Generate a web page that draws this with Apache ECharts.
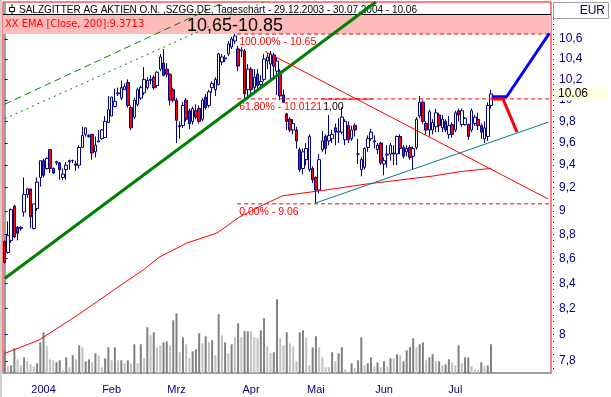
<!DOCTYPE html>
<html>
<head>
<meta charset="utf-8">
<script src="https://cdn.jsdelivr.net/npm/echarts@6/dist/echarts.min.js"></script>
<style>
  html, body { margin: 0; padding: 0; background: #fff; }
  #chart { width: 611px; height: 397px; }
</style>
</head>
<body>
<div id="chart"></div>
<script>
// chart data
const MONTHS = ['Dez', '2004', 'Feb', 'Mrz', 'Apr', 'Mai', 'Jun', 'Jul'];
const TRADING_DAYS = [2, 21, 20, 23, 20, 21, 22, 22];
const EMPTY_DAYS = 18; // room on the right for the projection

// [open, close, low, high]
const CANDLES = [
  [8.74,8.57,8.56,8.75],[8.65,8.79,8.64,8.91],[8.75,9.01,8.73,9.02],[9.04,8.78,8.77,9.05],[8.86,8.81,8.75,8.87],
  [8.85,8.86,8.83,8.87],[8.99,9.14,8.95,9.29],[9.14,9.19,9.11,9.20],[9.19,8.95,8.85,9.19],[8.85,9.06,8.84,9.06],
  [9.02,9.25,9.00,9.29],[9.29,9.44,9.21,9.44],[9.44,9.31,9.29,9.46],[9.37,9.46,9.36,9.47],[9.54,9.37,9.33,9.54],
  [9.37,9.33,9.32,9.38],[9.42,9.43,9.40,9.44],[9.42,9.36,9.27,9.43],[9.29,9.32,9.27,9.37],[9.36,9.40,9.27,9.43],
  [9.43,9.44,9.36,9.45],[9.44,9.44,9.42,9.45],[9.41,9.40,9.35,9.44],[9.40,9.56,9.37,9.58],[9.56,9.67,9.56,9.75],
  [9.68,9.74,9.66,9.74],[9.67,9.66,9.65,9.68],[9.68,9.51,9.45,9.68],[9.52,9.58,9.47,9.66],[9.61,9.62,9.61,9.72],
  [9.64,9.72,9.63,9.73],[9.65,9.80,9.65,9.85],[9.79,9.91,9.79,10.04],[9.85,10.03,9.85,10.03],[9.94,9.99,9.93,10.11],
  [10.06,10.07,10.04,10.12],[10.02,10.12,10.00,10.19],[10.10,10.13,10.10,10.16],[10.17,9.95,9.93,10.20],[9.93,9.74,9.72,9.95],
  [9.84,10.00,9.82,10.02],[9.96,10.10,9.94,10.12],[10.02,10.12,10.00,10.14],[10.07,10.20,10.05,10.32],[10.12,10.19,10.10,10.22],
  [10.19,10.20,10.15,10.24],[10.22,10.12,10.10,10.24],[10.14,10.27,10.12,10.28],[10.30,10.42,10.28,10.45],[10.36,10.24,10.23,10.50],
  [10.30,10.25,10.22,10.36],[10.25,10.00,9.95,10.26],[10.10,10.00,9.98,10.12],[10.00,9.81,9.60,10.02],[9.76,9.75,9.64,9.80],
  [9.76,9.95,9.74,9.98],[10.00,9.82,9.80,10.02],[9.90,9.78,9.73,9.92],[9.80,9.92,9.77,9.94],[9.90,9.84,9.82,9.96],
  [9.92,9.80,9.78,9.95],[9.82,10.00,9.80,10.02],[10.03,9.93,9.91,10.06],[9.95,10.08,9.93,10.10],[10.12,10.16,10.07,10.18],
  [10.10,10.20,10.04,10.22],[10.15,10.45,10.14,10.46],[10.37,10.42,10.34,10.45],[10.40,10.41,10.37,10.44],[10.45,10.55,10.43,10.58],
  [10.52,10.60,10.50,10.62],[10.58,10.63,10.55,10.65],[10.50,10.33,10.28,10.53],[10.48,10.49,10.42,10.52],[10.48,10.06,10.02,10.50],
  [10.10,10.30,10.02,10.35],[10.30,10.10,10.06,10.32],[10.12,10.22,10.08,10.30],[10.25,10.14,10.10,10.30],[10.15,10.18,10.12,10.24],
  [10.20,10.40,10.18,10.45],[10.38,10.42,10.30,10.46],[10.35,10.45,10.20,10.48],[10.44,10.33,10.22,10.46],[10.28,10.38,10.05,10.42],
  [10.28,10.04,10.00,10.30],[10.05,9.98,9.98,10.10],[9.87,9.80,9.72,9.88],[9.82,9.72,9.70,9.84],[9.72,9.78,9.68,9.82],
  [9.72,9.62,9.55,9.75],[9.54,9.36,9.34,9.56],[9.37,9.52,9.32,9.55],[9.45,9.55,9.40,9.60],[9.36,9.66,9.34,9.68],
  [9.37,9.27,9.24,9.39],[9.29,9.18,9.06,9.30],[9.18,9.45,9.15,9.50],[9.54,9.62,9.52,9.71],[9.66,9.55,9.50,9.68],
  [9.62,9.67,9.58,9.86],[9.64,9.68,9.60,9.72],[9.74,9.70,9.58,9.78],[9.70,9.71,9.60,9.83],[9.70,9.84,9.68,9.93],
  [9.63,9.80,9.58,9.82],[9.76,9.63,9.60,9.80],[9.64,9.72,9.62,9.76],[9.76,9.72,9.66,9.78],[9.50,9.50,9.41,9.64],
  [9.36,9.45,9.30,9.47],[9.38,9.55,9.36,9.56],[9.56,9.64,9.52,9.67],[9.64,9.70,9.62,9.73],[9.62,9.61,9.55,9.67],
  [9.54,9.58,9.50,9.60],[9.60,9.42,9.40,9.61],[9.41,9.44,9.31,9.47],[9.49,9.50,9.38,9.58],[9.50,9.58,9.44,9.60],
  [9.51,9.50,9.40,9.58],[9.50,9.66,9.40,9.67],[9.66,9.55,9.50,9.68],[9.56,9.48,9.46,9.58],[9.52,9.55,9.48,9.58],
  [9.56,9.47,9.45,9.58],[9.48,9.55,9.36,9.57],[9.56,9.82,9.54,9.84],[9.85,9.98,9.83,10.04],[9.98,9.80,9.78,10.00],
  [9.78,9.72,9.68,9.80],[9.72,9.89,9.66,9.91],[9.72,9.79,9.68,9.82],[9.75,9.88,9.70,9.92],[9.86,9.76,9.70,9.88],
  [9.74,9.82,9.70,9.86],[9.80,9.72,9.70,9.82],[9.68,9.76,9.64,9.85],[9.77,9.68,9.65,9.79],[9.72,9.88,9.70,9.90],
  [9.90,9.86,9.80,9.92],[9.77,9.90,9.75,9.92],[9.77,9.83,9.76,9.84],[9.77,9.66,9.63,9.78],[9.72,9.90,9.70,9.92],
  [9.78,9.84,9.76,9.86],[9.82,9.76,9.72,9.88],[9.76,9.70,9.64,9.78],[9.64,9.74,9.60,9.80],[9.66,9.95,9.62,9.98],
  [9.95,10.06,9.92,10.10]
];

// volume in 1000 shares, and which bars are drawn dark
const VOLUME = [
  227,67,77,247,137,77,157,120,87,67, 97,307,407,267,137,127,107,127,27,157,
  57,177,137,277,257,117,137,107,197,177, 57,147,257,127,257,127,127,97,127,97,
  287,97,287,147,457,377,407,257,277,307, 317,277,527,597,207,357,287,147,217,237,
  397,297,367,307,327,177,587,377,307,197, 287,357,497,357,417,417,417,357,347,427,
  547,267,197,207,737,347,277,407,297,267, 117,407,427,357,77,257,367,257,157,57,
  57,207,117,197,257,37,13,97,47,127, 357,77,97,157,67,107,57,117,67,147,
  147,187,177,117,227,257,347,257,287,307, 127,157,187,117,117,77,87,137,107,77,
  277,97,157,157,67,37,27,107,67,77,287
];
const VOLUME_DARK = [
  1,0,1,1,0,0,1,0,0,0, 1,1,1,0,0,0,1,1,0,1, 0,1,0,1,0,1,1,0,1,0, 0,1,1,0,1,0,1,0,1,0,
  1,0,1,0,1,0,1,0,0,1, 1,0,1,1,0,1,0,0,1,1, 1,0,1,0,1,0,1,0,1,0, 1,0,1,0,1,1,0,0,0,1,
  1,0,0,1,1,0,0,1,0,0, 0,1,1,0,0,1,1,0,0,0, 0,1,0,1,1,0,0,1,0,1, 1,0,1,1,0,1,0,1,0,1,
  0,1,0,1,1,1,1,0,1,1, 0,1,1,0,1,0,1,1,0,0, 1,0,1,1,0,0,0,1,0,1,1
];

// EMA 200 read at [day index, price]
const EMA_200 = [
  [0,7.857],[10.6,7.958],[22.6,8.150],[34.7,8.365],[42.7,8.507],[47.9,8.615],[56.2,8.728],
  [65.5,8.812],[72.6,8.950],[80.9,9.067],[85.8,9.13],[91.1,9.150],[101.3,9.189],[111.7,9.233],
  [121.9,9.268],[132.1,9.303],[140.4,9.342],[150,9.371]
];

// drawn trend lines, [day index, price]
const TREND_GREEN = [[0, 8.438], [114.5, 10.98]];
const CHANNEL_DASHED = [[0, 9.961], [67.8, 10.98]];
const CHANNEL_DOTTED = [[0, 9.825], [80, 10.98]];
const TREND_RED = [[80.3, 10.476], [167.6, 9.102]];
const SUPPORT_TEAL = [[95.7, 9.065], [167.6, 9.792]];
const PROJ_UP = [[150.2, 10.033], [154.8, 10.033], [168, 10.658]];
const PROJ_DOWN = [[150.2, 10.011], [153.7, 10.011], [158, 9.70]];
const MARK_1_00 = [[97.6, 10.01], [113.3, 10.01]];

const FIB_FROM = 71.7;
const FIB_LEVELS = [
  { price: 10.65, text: '100.00% - 10.65' },
  { price: 10.0121, text: '61.80% - 10.0121' },
  { price: 9.06, text: '0.00% - 9.06' }
];
const ZONE = [10.65, 10.85];
const LAST_CLOSE = 10.06;

const PRICE_TICKS = [7.8, 8, 8.2, 8.4, 8.6, 8.8, 9, 9.2, 9.4, 9.6, 9.8, 10, 10.2, 10.4, 10.6];
const PRICE_MIN = 7.712;
const PRICE_MAX = 10.98;

const FONT = 'Liberation Sans, Arial, sans-serif';
const NARROW = 'Liberation Sans Narrow, DejaVu Sans Condensed, Liberation Sans, sans-serif';

// --- categories: trading days, month ticks and labels ---
const categories = [];
const monthStarts = new Set();
const labelAt = {};
MONTHS.forEach((m, k) => {
  const start = categories.length;
  for (let d = 0; d < TRADING_DAYS[k]; d++) categories.push(m + ' ' + (d + 1));
  if (k > 0) { monthStarts.add(start); labelAt[start + 10] = m; }
});
for (let d = 0; d < EMPTY_DAYS; d++) categories.push('Aug ' + (d + 1));
const N = categories.length;

const ln = Math.log;
const tickVals = PRICE_TICKS.map(ln);
const minorVals = [];
for (let p = 775; p <= 1095; p += 5) minorVals.push(ln(p / 100));

function priceLabel(v) {
  let s = (Math.round(Math.exp(v) * 10) / 10).toFixed(1);
  if (s.endsWith('.0')) s = s.slice(0, -2);
  return s.replace('.', ',');
}

function lineSeries(name, points, color, width, type, z) {
  return {
    name: name, type: 'line', xAxisIndex: 2, yAxisIndex: 0, z: z || 4,
    silent: true, symbol: 'none', animation: false,
    lineStyle: { color: color, width: width, type: type || 'solid' },
    data: points.map(p => [p[0], ln(p[1])])
  };
}

// a line whose first point carries a text hanging below it
function labelledLine(name, points, color, type, text, textColor) {
  const s = lineSeries(name, points, color, 1, type, 3);
  s.showSymbol = true;
  s.symbol = 'circle';
  s.symbolSize = 0.1;
  s.itemStyle = { opacity: 0 };
  s.label = { show: false };
  s.data[0] = { value: s.data[0], label: { show: true, position: 'right', formatter: text, opacity: 1,
    color: textColor, fontSize: 10.5, fontFamily: FONT, offset: [-3, 8] } };
  return s;
}

const fibSeries = FIB_LEVELS.map(f =>
  labelledLine('Fib ' + f.text, [[FIB_FROM, f.price], [N - 0.5, f.price]], '#ff0000', [4, 3], f.text, '#ff0000'));

const chart = echarts.init(document.getElementById('chart'));

const priceAxisBase = { type: 'value', gridIndex: 0, position: 'right', min: ln(PRICE_MIN), max: ln(PRICE_MAX), offset: 2, splitLine: { show: false } };

chart.setOption({
  animation: false,
  backgroundColor: '#fff',
  title: [
    { text: 'SALZGITTER AG AKTIEN O.N. ,SZGG.DE, Tageschart - 29.12.2003 - 30.07.2004 - 10.06',
      left: 19, top: 5, padding: 0, z: 3,
      textStyle: { fontSize: 10, fontWeight: 'normal', color: '#000', fontFamily: FONT } },
    { text: 'XX EMA [Close, 200]:9.3713', left: 5, top: 19, padding: 0, z: 3,
      textStyle: { fontSize: 11, fontWeight: 'normal', color: '#ff0000', fontFamily: NARROW } }
  ],
  grid: [
    { left: 3, right: 60, top: 2, bottom: 24, show: true, borderColor: '#ff0000', borderWidth: 1, backgroundColor: '#fff' },
    { left: 3, right: 60, top: 273, bottom: 24 }
  ],
  xAxis: [
    { type: 'category', gridIndex: 0, data: categories, boundaryGap: true, show: false },
    { type: 'category', gridIndex: 1, data: categories, boundaryGap: true, offset: 2,
      axisLine: { lineStyle: { color: '#a0a0a0', width: 2 } },
      axisTick: { alignWithLabel: true, length: 5, interval: i => monthStarts.has(i), lineStyle: { color: '#000080' } },
      axisLabel: { interval: i => labelAt[i] !== undefined, formatter: (v, i) => labelAt[i] || '',
        color: '#000080', fontSize: 11, fontFamily: FONT, margin: 9 } },
    { type: 'value', gridIndex: 0, min: -0.5, max: N - 0.5, show: false }
  ],
  yAxis: [
    Object.assign({}, priceAxisBase, {
      axisLine: { show: true, lineStyle: { color: '#a0a0a0', width: 2 } },
      axisTick: { show: true, length: 3, customValues: tickVals, lineStyle: { color: '#000080' } },
      axisLabel: { customValues: tickVals, formatter: priceLabel, color: '#000080', fontSize: 12, fontFamily: FONT, margin: 6 }
    }),
    Object.assign({}, priceAxisBase, {
      axisLine: { show: false },
      axisTick: { show: true, length: 1, customValues: minorVals, lineStyle: { color: '#000080' } },
      axisLabel: { show: false }
    }),
    { type: 'value', gridIndex: 1, min: 0, max: 1000, show: false },
    Object.assign({}, priceAxisBase, {
      z: 5,
      axisLine: { show: false }, axisTick: { show: false },
      axisLabel: { customValues: [ln(LAST_CLOSE)], formatter: () => LAST_CLOSE.toFixed(2),
        color: '#000', fontSize: 12, fontFamily: FONT, margin: 1,
        backgroundColor: '#ffffe1', padding: [1, 19, 0, 4], lineHeight: 12 }
    })
  ],
  series: [
    {
      name: 'Volumen', type: 'bar', xAxisIndex: 1, yAxisIndex: 2, z: 1, silent: true,
      barWidth: 2,
      data: VOLUME.map((v, i) => ({ value: v, itemStyle: { color: VOLUME_DARK[i] ? '#808080' : '#c0c0c0' } }))
    },
    {
      name: 'SZGG', type: 'candlestick', xAxisIndex: 0, yAxisIndex: 0, z: 2, silent: true,
      barWidth: 3,
      itemStyle: { color: '#ffffff', color0: '#ff0000', borderColor: '#000080', borderColor0: '#000080', borderColorDoji: '#000080', borderWidth: 1 },
      data: CANDLES.map(c => c.map(ln)),
      markArea: {
        silent: true,
        itemStyle: { color: '#ffbaba', borderWidth: 0 },
        label: { show: true, position: 'inside', formatter: '10,65-10.85', fontSize: 18, color: '#000', fontFamily: FONT, offset: [-42, 2] },
        data: [[{ yAxis: ln(ZONE[0]) }, { yAxis: ln(ZONE[1]) }]]
      }
    },
    lineSeries('Zone oben', [[-0.5, ZONE[1]], [N - 0.5, ZONE[1]]], '#000000', 1, 'solid', 3),
    lineSeries('EMA 200', EMA_200, '#ff0000', 1)
  ].concat(fibSeries, [
    labelledLine('Marke', MARK_1_00, '#ff0000', 'solid', '1,00', '#000000'),
    lineSeries('Trend', TREND_GREEN, '#008000', 3),
    lineSeries('Kanal oben', CHANNEL_DASHED, '#008000', 1, [7, 4]),
    lineSeries('Kanal unten', CHANNEL_DOTTED, '#008000', 1, [2, 4]),
    lineSeries('Abwaertstrend', TREND_RED, '#ff0000', 1),
    lineSeries('Unterstuetzung', SUPPORT_TEAL, '#008080', 1),
    lineSeries('Ziel oben', PROJ_UP, '#0000ff', 3),
    lineSeries('Ziel unten', PROJ_DOWN, '#ff0000', 3)
  ]),
  graphic: [
    { type: 'line', shape: { x1: 1, y1: 0, x2: 1, y2: 397 }, style: { stroke: '#a0a0a0', lineWidth: 1 } },
    { type: 'rect', shape: { x: 553.5, y: 2.5, width: 55, height: 16 }, style: { fill: '#fff', stroke: '#a0a0a0' }, z: 10 },
    { type: 'text', style: { text: 'EUR', x: 605, y: 11, align: 'right', verticalAlign: 'middle', font: '12px ' + FONT, fill: '#000040' }, z: 11 },
    { type: 'line', shape: { x1: 12, y1: 4, x2: 12, y2: 15 }, style: { stroke: '#000', lineWidth: 1 }, z: 10 },
    { type: 'rect', shape: { x: 9.5, y: 7.5, width: 5, height: 4 }, style: { fill: '#fff', stroke: '#000', lineWidth: 1 }, z: 11 }
  ]
});
</script>
</body>
</html>
